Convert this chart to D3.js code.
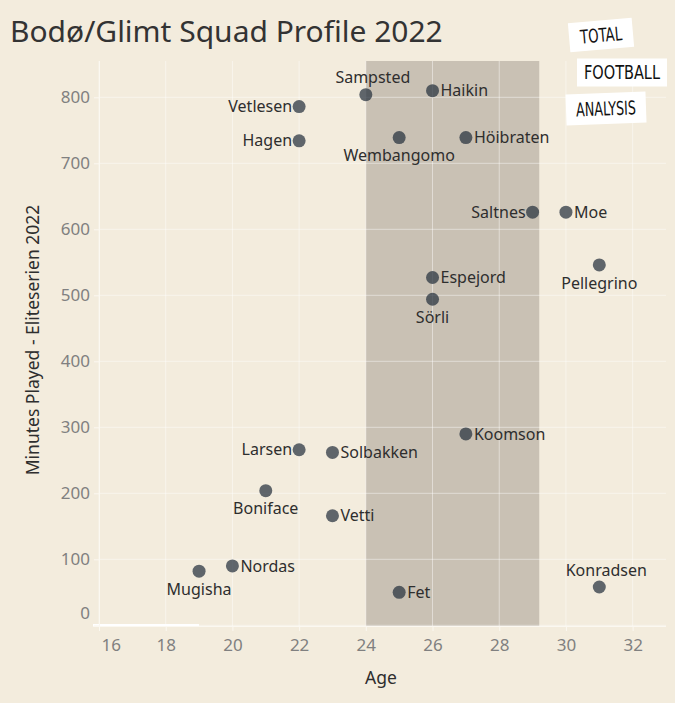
<!DOCTYPE html>
<html>
<head>
<meta charset="utf-8">
<script src="https://cdn.jsdelivr.net/npm/d3@7"></script>
<style>
body { margin: 0; background: #f3ecdd; }
svg { display: block; font-family: "Noto Sans", sans-serif; }
</style>
</head>
<body>
<svg id="chart" width="675" height="703"></svg>
<script>
const players = ["Sampsted", "Haikin", "Vetlesen", "Hagen", "Wembangomo", "Höibraten", "Saltnes", "Moe", "Pellegrino", "Espejord",
    "Sörli", "Koomson", "Larsen", "Solbakken", "Boniface", "Vetti", "Nordas", "Mugisha", "Fet", "Konradsen"];
const ages = [24, 26, 22, 22, 25, 27, 29, 30, 31, 26, 26, 27, 22, 23, 21, 23, 20, 19, 25, 31];
const minutes = [804, 810, 786, 734, 739, 739, 626, 626, 546, 527, 494, 290, 266, 262, 204, 166, 90, 82, 50, 58];
const peakAges = [24, 29.2];
const xTicks = [16, 18, 20, 22, 24, 26, 28, 30, 32];
const yTicks = [0, 100, 200, 300, 400, 500, 600, 700, 800];

// where each name sits relative to its dot
const labelSide = {
    "Sampsted": "above", "Haikin": "right", "Vetlesen": "left", "Hagen": "left", "Wembangomo": "below",
    "Höibraten": "right", "Saltnes": "left", "Moe": "right", "Pellegrino": "below", "Espejord": "right",
    "Sörli": "below", "Koomson": "right", "Larsen": "left", "Solbakken": "right", "Boniface": "below",
    "Vetti": "right", "Nordas": "right", "Mugisha": "below", "Fet": "right", "Konradsen": "above"
};

const svg = d3.select("#chart");
const x = d3.scaleLinear().domain([16, 33]).range([99, 666]);
const y = d3.scaleLinear().domain([0, 855]).range([625.3, 61]);

svg.append("rect").attr("width", 675).attr("height", 703).attr("fill", "#f3ecdd");

svg.append("rect")
    .attr("x", x(peakAges[0]))
    .attr("y", y(855))
    .attr("width", x(peakAges[1]) - x(peakAges[0]))
    .attr("height", 626 - y(855))
    .attr("fill", "#c9c1b4");

const grid = svg.append("g").attr("stroke", "#fff").attr("stroke-opacity", 0.45);
grid.selectAll(".vg").data(xTicks).join("line")
    .attr("x1", d => x(d)).attr("x2", d => x(d))
    .attr("y1", y(855)).attr("y2", 626);
grid.selectAll(".hg").data(yTicks).join("line")
    .attr("x1", x(16)).attr("x2", x(33))
    .attr("y1", d => y(d)).attr("y2", d => y(d));

const xAxis = svg.append("g")
    .attr("transform", "translate(0,626)")
    .call(d3.axisBottom(x).tickValues(xTicks).tickSize(5).tickPadding(8));
xAxis.select(".domain").attr("stroke", "#fbf8f1").attr("d", `M${x(16) - 6},0.5H${x(33)}`);
xAxis.selectAll(".tick line").attr("stroke", "#fbf8f1");
xAxis.selectAll(".tick text")
    .attr("fill", "#808080").attr("font-size", 17).attr("font-family", "Noto Sans")
    .filter(d => d === 16).attr("text-anchor", "start").attr("dx", 2);

svg.append("line")
    .attr("x1", x(16) - 6).attr("x2", x(19))
    .attr("y1", 625).attr("y2", 625)
    .attr("stroke", "#fff").attr("stroke-width", 2);

const yAxis = svg.append("g")
    .attr("transform", `translate(${x(16)},0)`)
    .call(d3.axisLeft(y).tickValues(yTicks).tickSize(5).tickPadding(4));
yAxis.select(".domain").attr("stroke", "#fbf8f1").attr("d", `M0.5,${y(855)}V626`);
yAxis.selectAll(".tick line").attr("stroke", "#fbf8f1");
yAxis.selectAll(".tick text")
    .attr("fill", "#808080").attr("font-size", 17).attr("font-family", "Noto Sans")
    .filter(d => d === 0).attr("dy", "-0.4em");

svg.append("text")
    .attr("x", 381).attr("y", 684)
    .attr("text-anchor", "middle")
    .attr("font-size", 17.5).attr("fill", "#2e2e2e")
    .text("Age");

svg.append("text")
    .attr("transform", "translate(39,340) rotate(-90)")
    .attr("text-anchor", "middle")
    .attr("font-size", 17.5).attr("fill", "#2e2e2e")
    .text("Minutes Played - Eliteserien 2022");

const dots = svg.append("g");
dots.selectAll("circle").data(players).join("circle")
    .attr("cx", (d, i) => x(ages[i]))
    .attr("cy", (d, i) => y(minutes[i]))
    .attr("r", 6.5)
    .attr("fill", "#26303d")
    .attr("fill-opacity", 0.72);

const place = {
    right: { dx: 8, dy: 0, anchor: "start" },
    left: { dx: -7, dy: 0, anchor: "end" },
    above: { dx: 7, dy: -17, anchor: "middle" },
    below: { dx: 0, dy: 18, anchor: "middle" }
};
dots.selectAll("text").data(players).join("text")
    .attr("x", (d, i) => x(ages[i]) + place[labelSide[d]].dx)
    .attr("y", (d, i) => y(minutes[i]) + place[labelSide[d]].dy)
    .attr("dy", "0.35em")
    .attr("text-anchor", d => place[labelSide[d]].anchor)
    .attr("font-size", 16).attr("fill", "#2e2e2e")
    .text(d => d);

const title = svg.append("text")
    .attr("x", 10).attr("y", 42)
    .attr("font-size", 28).attr("fill", "#333")
    .text("Bodø/Glimt Squad Profile 2022");
const tw = title.node().getComputedTextLength();
title.attr("font-size", 28 * 433 / tw);

const logo = [
    { t: "TOTAL", cx: 601, cy: 35, w: 64, h: 29, r: -5, tw: 42 },
    { t: "FOOTBALL", cx: 622, cy: 72.5, w: 90, h: 28, r: 0, tw: 76 },
    { t: "ANALYSIS", cx: 606, cy: 108.5, w: 80, h: 31, r: -2, tw: 60 }
];
const lg = svg.append("g").selectAll("g").data(logo).join("g")
    .attr("transform", d => `translate(${d.cx},${d.cy}) rotate(${d.r})`);
lg.append("rect")
    .attr("x", d => -d.w / 2).attr("y", d => -d.h / 2)
    .attr("width", d => d.w).attr("height", d => d.h)
    .attr("fill", "#fff");
lg.append("text")
    .attr("text-anchor", "middle").attr("dy", "0.36em")
    .attr("font-family", "'DejaVu Sans Condensed', 'Liberation Sans Narrow', sans-serif")
    .attr("font-size", 19).attr("fill", "#111")
    .attr("textLength", d => d.tw).attr("lengthAdjust", "spacingAndGlyphs")
    .text(d => d.t);
</script>
</body>
</html>
